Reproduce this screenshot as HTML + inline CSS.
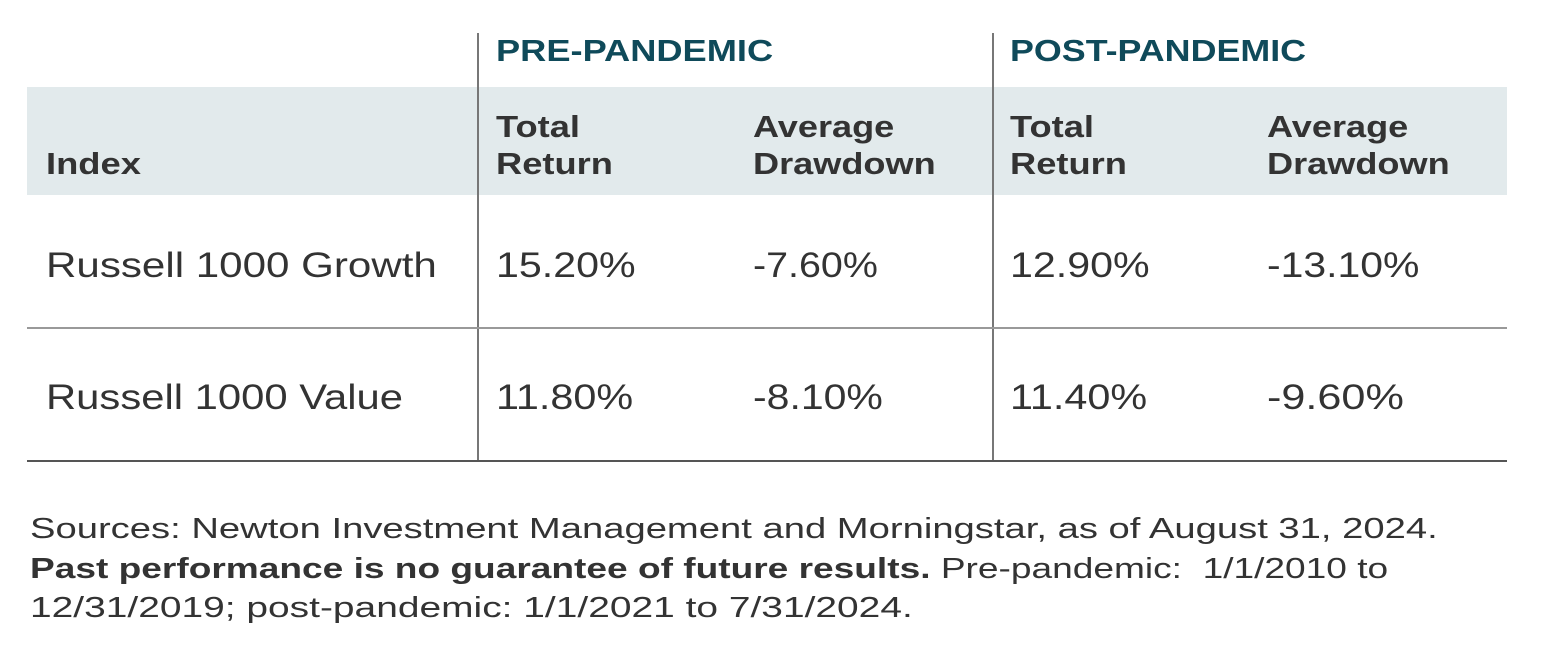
<!DOCTYPE html>
<html><head><meta charset="utf-8">
<style>
body{margin:0;width:1545px;height:647px;background:#fff;position:relative;overflow:hidden;font-family:"Liberation Sans",sans-serif;color:#333}
.t{position:absolute;white-space:nowrap;transform-origin:0 0;line-height:1}
.h{color:#0f4a5a;font-weight:bold;font-size:31px}
.c{font-weight:bold;font-size:31px;line-height:37px}
.v{font-size:35px}
.f{font-size:29px}
.line{position:absolute;background:#777}
</style></head><body>
<div style="position:absolute;left:27px;top:87px;width:1480px;height:108px;background:#e2eaec"></div>
<div class="line" style="left:477px;top:33px;width:1.5px;height:428px"></div>
<div class="line" style="left:992px;top:33px;width:1.5px;height:428px"></div>
<div class="line" style="left:27px;top:327px;width:1480px;height:1.5px;background:#999"></div>
<div class="line" style="left:27px;top:460px;width:1480px;height:2px;background:#555"></div>

<div class="t h" data-w="277" style="left:496px;top:35px">PRE-PANDEMIC</div>
<div class="t h" data-w="296" style="left:1010px;top:35px">POST-PANDEMIC</div>

<div class="t c" data-w="95" style="left:46px;top:145px">Index</div>
<div class="t c" data-w="117" style="left:496px;top:108px">Total<br>Return</div>
<div class="t c" data-w="183" style="left:753px;top:108px">Average<br>Drawdown</div>
<div class="t c" data-w="117" style="left:1010px;top:108px">Total<br>Return</div>
<div class="t c" data-w="183" style="left:1267px;top:108px">Average<br>Drawdown</div>

<div class="t v" data-w="391" style="left:46px;top:248px">Russell 1000 Growth</div>
<div class="t v" data-w="140" style="left:496px;top:248px">15.20%</div>
<div class="t v" data-w="125" style="left:753px;top:248px">-7.60%</div>
<div class="t v" data-w="140" style="left:1010px;top:248px">12.90%</div>
<div class="t v" data-w="152" style="left:1267px;top:248px">-13.10%</div>

<div class="t v" data-w="357" style="left:46px;top:380px">Russell 1000 Value</div>
<div class="t v" data-w="137" style="left:496px;top:380px">11.80%</div>
<div class="t v" data-w="130" style="left:753px;top:380px">-8.10%</div>
<div class="t v" data-w="137" style="left:1010px;top:380px">11.40%</div>
<div class="t v" data-w="137" style="left:1267px;top:380px">-9.60%</div>

<div class="t f" data-w="1408" style="left:30px;top:515px">Sources: Newton Investment Management and Morningstar, as of August 31, 2024.</div>
<div class="t f" data-w="1358" style="left:30px;top:555px"><b>Past performance is no guarantee of future results.</b> Pre-pandemic:&nbsp; 1/1/2010 to</div>
<div class="t f" data-w="883" style="left:30px;top:594px">12/31/2019; post-pandemic: 1/1/2021 to 7/31/2024.</div>
<script>
document.querySelectorAll('[data-w]').forEach(function(el){
  var w=el.scrollWidth, t=+el.getAttribute('data-w');
  if(w>0) el.style.transform='scaleX('+(t/w)+')';
});
</script>
</body></html>
